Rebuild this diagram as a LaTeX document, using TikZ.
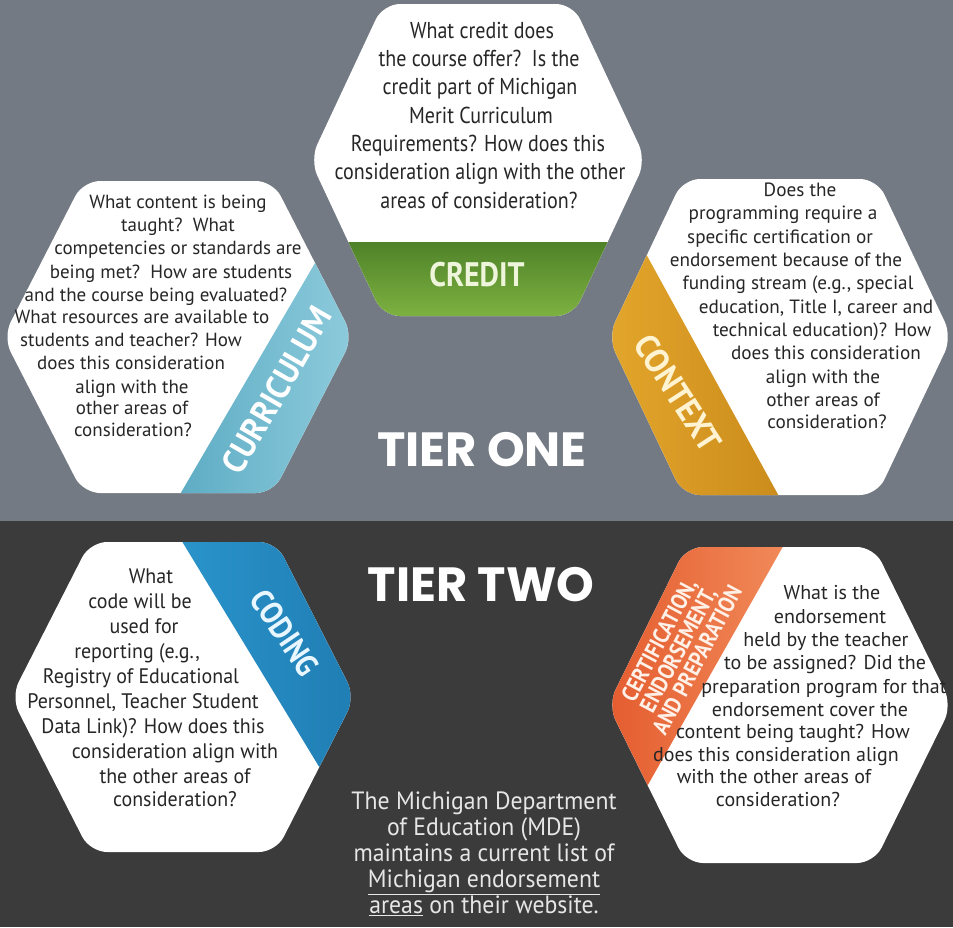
\documentclass[tikz,border=0pt]{standalone}
\usepackage{fontspec}
\setmainfont{PT Sans}
\newfontfamily\fcond{PT Sans}[FakeStretch=0.87]
\newfontfamily\fmid{PT Sans}[FakeStretch=0.95]
\newfontfamily\fnorm{PT Sans}
\newfontfamily\flab{PT Sans}[FakeStretch=0.88]
\newfontfamily\flabw{PT Sans}[FakeStretch=0.94]
\newfontfamily\ftier{Poppins}
\definecolor{topbg}{HTML}{737A83}
\definecolor{botbg}{HTML}{3B3B3B}
\definecolor{txt}{HTML}{262626}
\definecolor{gnA}{HTML}{4F8229}
\definecolor{gnB}{HTML}{86BA45}
\definecolor{cuA}{HTML}{5AAAC2}
\definecolor{cuB}{HTML}{9AD3E2}
\definecolor{coA}{HTML}{E7AA2E}
\definecolor{coB}{HTML}{C98A1A}
\definecolor{cdA}{HTML}{2A95CC}
\definecolor{cdB}{HTML}{1D78AE}
\definecolor{ceA}{HTML}{E3582B}
\definecolor{ceB}{HTML}{F28D5C}
\definecolor{gnT}{HTML}{EEF5DA}
\definecolor{coT}{HTML}{FFF3D2}
\definecolor{cdT}{HTML}{E8F6FF}
\definecolor{ceT}{HTML}{FFF0E8}
\definecolor{noteT}{HTML}{E6E6E6}
\def\hexpath#1#2#3#4#5{(#1,#2-#5) -- (#1+#4,#2-#5) -- (#1+#3,#2) -- (#1+#4,#2+#5) -- (#1-#4,#2+#5) -- (#1-#3,#2) -- (#1-#4,#2-#5) -- cycle}
\tikzset{
  hexfill/.style={fill=white, rounded corners=17pt},
  bt/.style={anchor=base, yshift=-6pt, inner sep=0pt, text=txt},
  crt/.style={bt, font=\fcond\fontsize{23}{23}\selectfont},
  cut/.style={bt, font=\fnorm\fontsize{19}{19}\selectfont},
  cot/.style={bt, font=\fnorm\fontsize{19.2}{19.2}\selectfont},
  cdt/.style={bt, font=\fmid\fontsize{21}{21}\selectfont},
  cet/.style={bt, font=\fnorm\fontsize{20}{20}\selectfont},
  lab/.style={inner sep=0pt, font=\flab\bfseries\fontsize{34}{34}\selectfont},
  labw/.style={inner sep=0pt, font=\flabw\bfseries\fontsize{34}{34}\selectfont},
  tier/.style={inner sep=0pt, text=white, font=\ftier\bfseries\fontsize{48}{48}\selectfont},
}
\begin{document}
\begin{tikzpicture}[x=1pt,y=-1pt]
\useasboundingbox (0,0) rectangle (953,927);
\fill[topbg] (0,0) rectangle (953,521);
\fill[botbg] (0,521) rectangle (953,927);
% ---------- CREDIT ----------
\fill[hexfill] \hexpath{478}{160}{168}{95}{156};
\begin{scope}
  \clip[rounded corners=17pt] \hexpath{478}{160}{168}{95}{156};
  \shade[top color=gnA, bottom color=gnB] (300,242) rectangle (660,330);
\end{scope}
\node[lab, text=gnT] (credit) at (477,275) {CREDIT};
\foreach \x/\y/\t [count=\i] in {
  482/32/{What credit does},
  479/60/{the course offer?\ \ Is the},
  480/88/{credit part of Michigan},
  481/117/{Merit Curriculum},
  478/145/{Requirements? How does this},
  480/173/{consideration align with the other},
  479/202/{areas of consideration?}}
  \node[crt] (cr\i) at (\x,\y) {\t};
% ---------- CURRICULUM ----------
\fill[hexfill] \hexpath{178}{337}{175}{95}{156};
\begin{scope}
  \clip[rounded corners=17pt] \hexpath{178}{337}{175}{95}{156};
  \shade[left color=cuA, right color=cuB] (381,150) -- (165,520) -- (400,520) -- (400,150) -- cycle;
\end{scope}
\node[labw, text=white, rotate=60] (curriculum) at (277,390) {CURRICULUM};
\foreach \x/\y/\t [count=\i] in {
  178/202/{What content is being},
  178/225/{taught?\ \ What},
  178/248/{competencies or standards are},
  171/272/{being met?\ \ How are students},
  156/295/{and the course being evaluated?},
  142/317/{What resources are available to},
  131/340/{students and teacher? How},
  131/363/{does this consideration},
  132/387/{align with the},
  132/408/{other areas of},
  133/430/{consideration?}}
  \node[cut] (cu\i) at (\x,\y) {\t};
% ---------- CONTEXT ----------
\fill[hexfill] \hexpath{780}{337}{172}{97}{158};
\begin{scope}
  \clip[rounded corners=17pt] \hexpath{780}{337}{172}{97}{158};
  \shade[left color=coA, right color=coB] (589,150) -- (792,520) -- (580,520) -- (580,150) -- cycle;
\end{scope}
\node[labw, text=coT, rotate=-57] (context) at (678,393) {CONTEXT};
\foreach \x/\y/\t [count=\i] in {
  800/190/{Does the},
  783/213/{programming require a},
  780/237/{specific certification or},
  786/260/{endorsement because of the},
  798/283/{funding stream (e.g., special},
  816/307/{education, Title I, career and},
  822/330/{technical education)? How},
  826/353/{does this consideration},
  823/377/{align with the},
  823/400/{other areas of},
  827/422/{consideration?}}
  \node[cot] (co\i) at (\x,\y) {\t};
% ---------- CODING ----------
\fill[hexfill] \hexpath{183}{697}{172}{93}{155};
\begin{scope}
  \clip[rounded corners=17pt] \hexpath{183}{697}{172}{93}{155};
  \shade[left color=cdA, right color=cdB] (169,520) -- (388,880) -- (400,880) -- (400,520) -- cycle;
\end{scope}
\node[lab, text=cdT, rotate=-56, font=\flab\bfseries\fontsize{32}{32}\selectfont] (coding) at (285,633) {CODING};
\foreach \x/\y/\t [count=\i] in {
  151/577/{What},
  140/602/{code will be},
  144/627/{used for},
  137/652/{reporting (e.g.,},
  141/677/{Registry of Educational},
  143/702/{Personnel, Teacher Student},
  153/727/{Data Link)? How does this},
  175/752/{consideration align with},
  175/777/{the other areas of},
  175/800/{consideration?}}
  \node[cdt] (cd\i) at (\x,\y) {\t};
% ---------- CERTIFICATION ----------
\fill[hexfill] \hexpath{780}{705}{172}{94}{158};
\begin{scope}
  \clip[rounded corners=17pt] \hexpath{780}{705}{172}{94}{158};
  \shade[left color=ceA, right color=ceB] (798,520) -- (594,880) -- (590,880) -- (590,520) -- cycle;
\end{scope}
\node[inner sep=0pt, text=ceT, rotate=62, align=center,
  font=\fcond\bfseries\fontsize{23}{21.5}\selectfont] (cert) at (678,650)
  {CERTIFICATION,\\ENDORSEMENT,\\AND PREPARATION};
\foreach \x/\y/\t [count=\i] in {
  832/593/{What is the},
  830/617/{endorsement},
  826/640/{held by the teacher},
  825/663/{to be assigned? Did the},
  824/687/{preparation program for that},
  810/710/{endorsement cover the},
  793/732/{content being taught? How},
  776/755/{does this consideration align},
  774/777/{with the other areas of},
  778/800/{consideration?}}
  \node[cet] (ce\i) at (\x,\y) {\t};
% ---------- TIER TITLES ----------
\node[tier] (tierone) at (482,450) {TIER ONE};
\node[tier] (tiertwo) at (481,585) {TIER TWO};
% ---------- NOTE ----------
\node[inner sep=0pt, anchor=north, align=center, text=noteT,
  font=\fmid\fontsize{25}{26}\selectfont] (note) at (484,792)
  {The Michigan Department\\of Education (MDE)\\maintains a current list of\\
   \underline{Michigan endorsement}\\\underline{areas} on their website.};
\end{tikzpicture}
\end{document}
